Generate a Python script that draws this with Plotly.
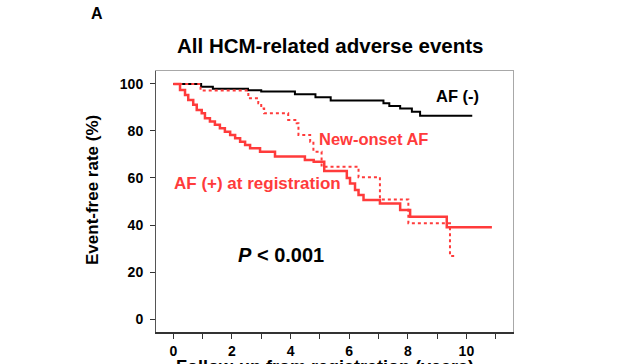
import plotly.graph_objects as go

# ---- data ----
af_neg_t = [0, 0.95, 1.35, 2.55, 3.0, 4.15, 4.85, 5.37, 7.17, 7.37, 7.74, 8.14, 8.42, 10.2]
af_neg_s = [100, 98.8, 98.0, 97.3, 96.8, 95.6, 94.3, 93.0, 91.8, 90.6, 89.6, 88.2, 86.5, 86.5]

af_reg_t = [0, 0.23, 0.40, 0.51, 0.68, 0.80, 0.97, 1.08, 1.25, 1.42, 1.59, 1.76, 1.94,
            2.11, 2.28, 2.45, 2.62, 2.96, 3.47, 4.49, 4.79, 5.15, 5.92, 6.03, 6.2, 6.32,
            6.49, 7.05, 7.74, 8.08, 9.33, 10.87]
af_reg_s = [100, 97.4, 95.3, 93.2, 91.1, 88.9, 87.5, 85.4, 84.0, 82.6, 81.1, 79.7, 78.3,
            76.9, 75.4, 74.0, 72.6, 71.2, 69.1, 67.7, 66.9, 63.0, 60.0, 57.7, 54.9, 52.8,
            50.6, 49.2, 46.4, 43.5, 39.0, 39.0]

new_af_t = [0, 0.93, 2.56, 2.9, 3.0, 3.1, 3.92, 4.21, 4.27, 4.67, 4.78, 5.06, 6.32,
            7.05, 8.02, 9.44, 9.67]
new_af_s = [100, 97.2, 93.9, 91.8, 89.5, 87.5, 84.7, 83.3, 78.3, 75.4, 71.2, 64.8, 60.3,
            50.9, 40.7, 26.8, 26.8]

x_ticks = list(range(0, 12))
x_tick_text = [str(v) if v % 2 == 0 else "" for v in x_ticks]
y_ticks = [0, 20, 40, 60, 80, 100]

RED = "#FF3B3B"
FONT = "Liberation Sans, Arial, sans-serif"
X_RANGE = [-0.59, 11.59]
Y_RANGE = [-5.5, 105.5]

# plot area in pixels
L, R, T, B = 156, 513, 71, 332
W, H = 626, 364


def px(x):
    return (x - L) / (R - L)


def py(y):
    return (B - y) / (B - T)


fig = go.Figure()
fig.add_trace(go.Scatter(x=af_neg_t, y=af_neg_s, mode="lines", line_shape="hv",
                         line=dict(color="black", width=2), name="AF (-)"))
fig.add_trace(go.Scatter(x=new_af_t, y=new_af_s, mode="lines", line_shape="hv",
                         line=dict(color=RED, width=2, dash="dot"), name="New-onset AF"))
fig.add_trace(go.Scatter(x=af_reg_t, y=af_reg_s, mode="lines", line_shape="hv",
                         line=dict(color=RED, width=2.5), name="AF (+) at registration"))

annos = [
    dict(text="<b>A</b>", x=px(97), y=py(14), size=16, color="black", xanchor="center"),
    dict(text="<b>All HCM-related adverse events</b>", x=px(330), y=py(45), size=20.5,
         color="black", xanchor="center"),
    dict(text="<b>AF (-)</b>", x=px(434), y=py(96), size=16.5, color="black", xanchor="left"),
    dict(text="<b>New-onset AF</b>", x=px(317), y=py(139), size=16.5, color=RED, xanchor="left"),
    dict(text="<b>AF (+) at registration</b>", x=px(172), y=py(183), size=17, color=RED,
         xanchor="left"),
    dict(text="<b><i>P</i> &lt; 0.001</b>", x=px(236), y=py(255), size=20, color="black",
         xanchor="left"),
    dict(text="<b>Follow-up from registration (years)</b>", x=px(325), y=py(367), size=18,
         color="black", xanchor="center"),
]
for a in annos:
    fig.add_annotation(text=a["text"], x=a["x"], y=a["y"], xref="paper", yref="paper",
                       xanchor=a["xanchor"], yanchor="middle", showarrow=False,
                       font=dict(family=FONT, size=a["size"], color=a["color"]))

fig.add_annotation(text="<b>Event-free rate (%)</b>", x=px(92), y=py(190), xref="paper",
                   yref="paper", xanchor="center", yanchor="middle", showarrow=False,
                   textangle=-90, font=dict(family=FONT, size=17, color="black"))

fig.update_layout(
    template="none",
    width=W, height=H, margin=dict(l=L, r=W - R, t=T, b=H - B, pad=0, autoexpand=False),
    plot_bgcolor="white", paper_bgcolor="white", showlegend=False,
    font=dict(family=FONT),
    xaxis=dict(range=X_RANGE, tickvals=x_ticks, ticktext=x_tick_text, automargin=False,
               ticks="outside", ticklen=5, tickcolor="#333", showline=True,
               linecolor="#333", linewidth=1.5, showgrid=False, zeroline=False,
               ticklabelstandoff=0,
               tickfont=dict(family=FONT, size=14, color="black", weight="bold")),
    yaxis=dict(range=Y_RANGE, tickvals=y_ticks, automargin=False, ticks="outside",
               ticklen=5, tickcolor="#333", showline=True, linecolor="#555", linewidth=1,
               showgrid=False, zeroline=False, ticklabelstandoff=4,
               tickfont=dict(family=FONT, size=14, color="black", weight="bold")),
    # light gray frame on top and right
    xaxis2=dict(overlaying="x", side="top", range=X_RANGE, showline=True,
                linecolor="#A8A8A8", linewidth=1, showticklabels=False, ticks="",
                showgrid=False, zeroline=False, automargin=False),
    yaxis2=dict(overlaying="y", side="right", range=Y_RANGE, showline=True,
                linecolor="#A8A8A8", linewidth=1, showticklabels=False, ticks="",
                showgrid=False, zeroline=False, automargin=False),
)
# invisible helper trace to activate the frame axes
fig.add_trace(go.Scatter(x=[], y=[], xaxis="x2", yaxis="y2", hoverinfo="skip",
                         showlegend=False))

fig.write_html("out.html", config={"displayModeBar": False},
               post_script="document.body.style.margin='0';"
                           "document.body.style.overflow='hidden';")
